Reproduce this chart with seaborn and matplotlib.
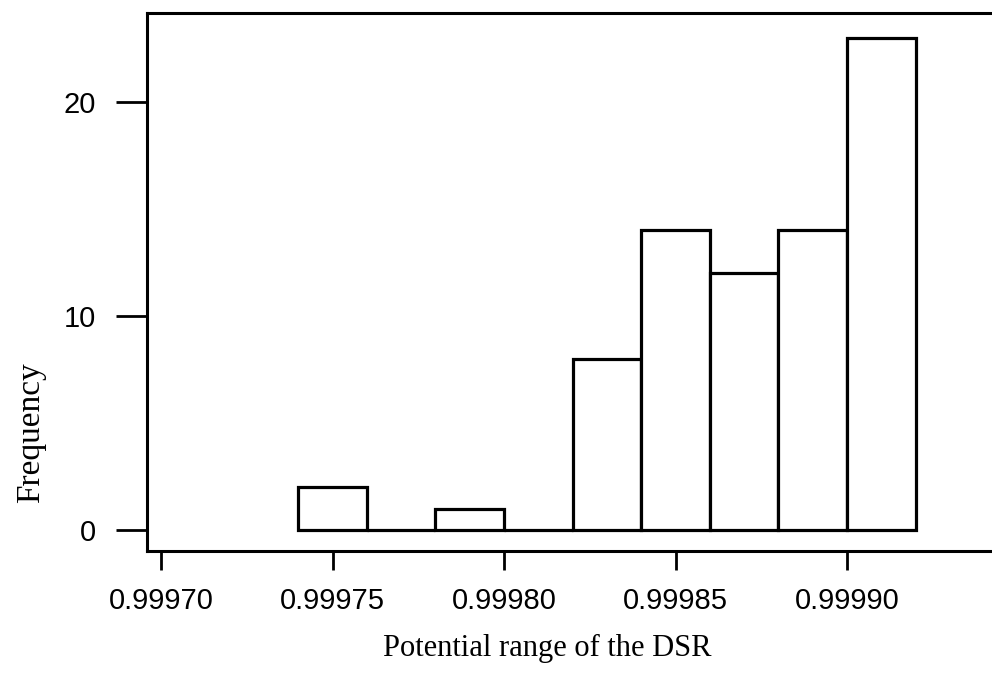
import matplotlib
matplotlib.use("Agg")
import matplotlib.pyplot as plt
import seaborn as sns
import numpy as np

# Data
bin_edges = [0.99974, 0.99976, 0.99978, 0.99980, 0.99982, 0.99984, 0.99986, 0.99988, 0.99990, 0.99992]
counts = [2, 0, 1, 0, 8, 14, 12, 14, 23]
x_ticks = [0.99970, 0.99975, 0.99980, 0.99985, 0.99990]
x_tick_labels = ["0.99970", "0.99975", "0.99980", "0.99985", "0.99990"]
y_ticks = [0, 10, 20]
y_tick_labels = ["0", "10", "20"]

centers = [(a + b) / 2 for a, b in zip(bin_edges[:-1], bin_edges[1:])]

sns.set_style("white")
plt.rcParams['font.family'] = ['Liberation Sans', 'DejaVu Sans']

fig = plt.figure(figsize=(9.92, 6.93), dpi=100)
ax = fig.add_axes([147 / 992, 1 - 551 / 693, (1010 - 147) / 992, (551 - 13) / 693])

sns.histplot(x=centers, weights=counts, bins=bin_edges, ax=ax,
             color="white", edgecolor="black", linewidth=2.3, alpha=1.0)

# scale: 0.99970 at px 161, 171.5 px per 0.00005
ppx = 0.00005 / 171.5
x0 = 0.99970 - (161 - 147) * ppx
x1 = 0.99970 + (1010 - 161) * ppx
ax.set_xlim(x0, x1)
ppy = 10 / 214.0
ax.set_ylim(0 - (551 - 530) * ppy, 0 + (530 - 13) * ppy)

ax.set_xticks(x_ticks)
ax.set_xticklabels(x_tick_labels)
ax.set_yticks(y_ticks)
ax.set_yticklabels(y_tick_labels)

ax.tick_params(axis='x', direction='out', length=14, width=2.0, labelsize=21, pad=12, colors='black')
ax.tick_params(axis='y', direction='out', length=22, width=2.0, labelsize=21, pad=15, colors='black')
ax.tick_params(bottom=True, left=True)

for s in ['left', 'bottom', 'top']:
    ax.spines[s].set_visible(True)
    ax.spines[s].set_linewidth(2.2)
    ax.spines[s].set_color('black')
ax.spines['right'].set_visible(False)

serif = ['Liberation Serif', 'DejaVu Serif']
ax.set_xlabel("Potential range of the DSR", fontsize=22, family=serif, color='black')
ax.set_ylabel("Frequency", fontsize=24, family=serif, color='black')
ax.xaxis.set_label_coords((547 - 147) / (1010 - 147), -(634 - 551) / 538)
ax.yaxis.set_label_coords(-(147 - 46) / (1010 - 147), (551 - 433) / 538)

fig.savefig("out.png", dpi=100)
